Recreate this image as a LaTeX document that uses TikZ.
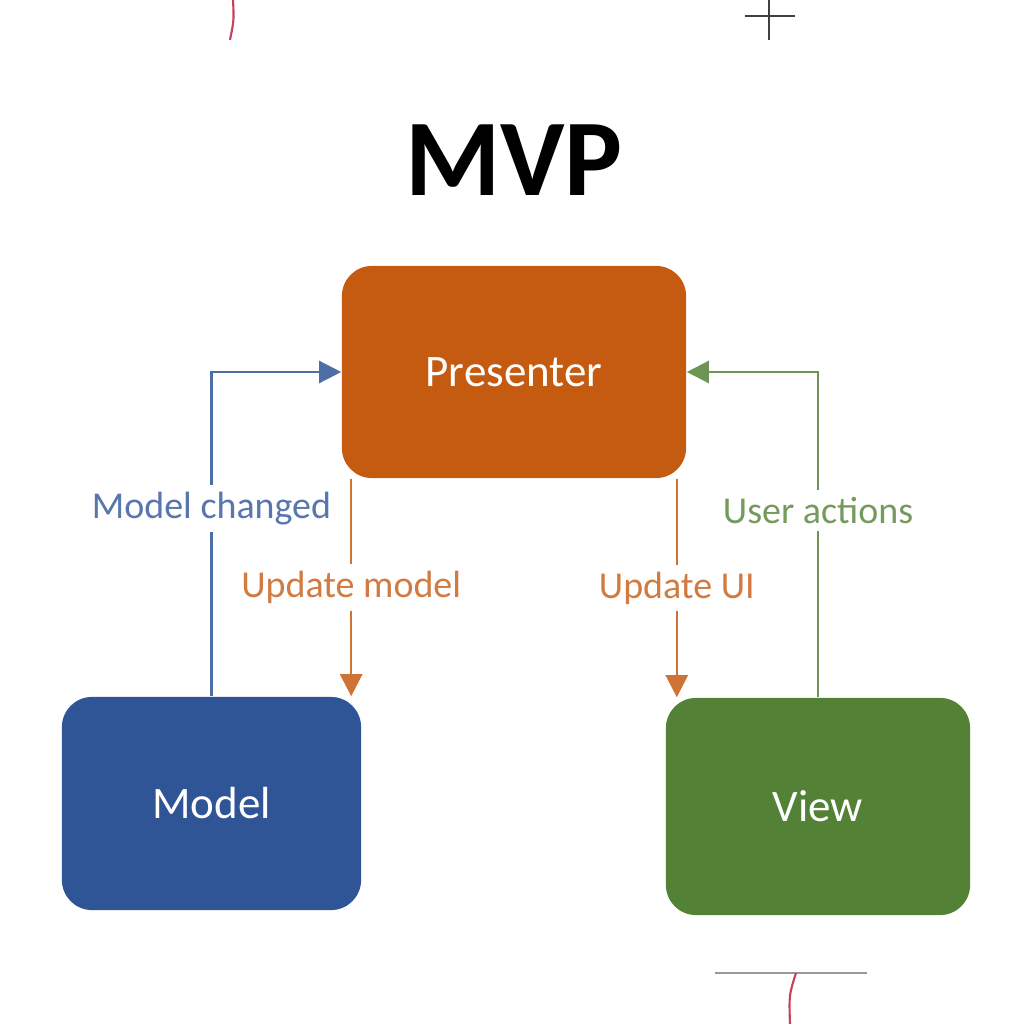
\documentclass[tikz,border=0pt]{standalone}
\usepackage{fontspec}
\setmainfont{Carlito}
\usetikzlibrary{arrows.meta}
\definecolor{mvpblue}{HTML}{2F5597}
\definecolor{mvporange}{HTML}{C55A11}
\definecolor{mvpgreen}{HTML}{538135}
\definecolor{markred}{HTML}{C8405A}
\tikzset{
  mvpbox/.style={rounded corners=0.3cm, inner sep=0pt, text=white,
    font=\fontsize{12.8}{15}\selectfont},
  flow/.style={line width=0.7pt, -{Triangle[length=0.22cm,width=0.22cm]}},
  flowlabel/.style={fill=white, inner sep=2pt, font=\fontsize{10.8}{13}\selectfont}
}
\begin{document}
\begin{tikzpicture}[x=0.01cm,y=-0.01cm]
                \useasboundingbox (0,0) rectangle (1024,1024);
                \fill[white] (0,0) rectangle (1024,1024);
                % marks at the edges
                \draw[markred, line width=0.6pt] (233,0) .. controls (234,20) .. (230,40);
                \draw[black!75, line width=0.8pt] (769,0) -- (769,40);
                \draw[black!75, line width=0.8pt] (745,16) -- (795,16);
                \draw[black!40, line width=0.6pt] (715,973) -- (867,973);
                \draw[markred, line width=0.6pt] (796,973) .. controls (789,995) .. (790,1024);
                % title
                \node (title) at (514,160) {\fontsize{31}{36}\selectfont\bfseries MVP};
                % boxes
                \node[mvpbox, fill=mvporange, minimum width=3.44cm, minimum height=2.12cm] (pres) at (514,372) {Presenter};
                \node[mvpbox, fill=mvpblue, minimum width=2.99cm, minimum height=2.13cm] (model) at (211.5,803.5) {Model};
                \node[mvpbox, fill=mvpgreen, minimum width=3.04cm, minimum height=2.17cm] (view) at (818,806.5) {View};
                % connectors
                \draw[flow, mvpblue!85!white] (model.north) -- node[flowlabel, pos=0.58, text=mvpblue!80!white] (lblchanged) {Model changed} (model.north |- pres.west) -- (pres.west);
                \draw[flow, mvporange!85!white] ([xshift=0.1cm]pres.south west) -- node[flowlabel, midway, text=mvporange!80!white] (lblmodel) {Update model} ([xshift=0.1cm]pres.south west |- model.north);
                \draw[flow, mvporange!85!white] ([xshift=-0.1cm]pres.south east) -- node[flowlabel, midway, text=mvporange!80!white] (lblui) {Update UI} ([xshift=-0.1cm]pres.south east |- view.north);
                \draw[flow, mvpgreen!85!white] (view.north) -- node[flowlabel, pos=0.574, text=mvpgreen!80!white] (lblactions) {User actions} (view.north |- pres.east) -- (pres.east);
\end{tikzpicture}
\end{document}
